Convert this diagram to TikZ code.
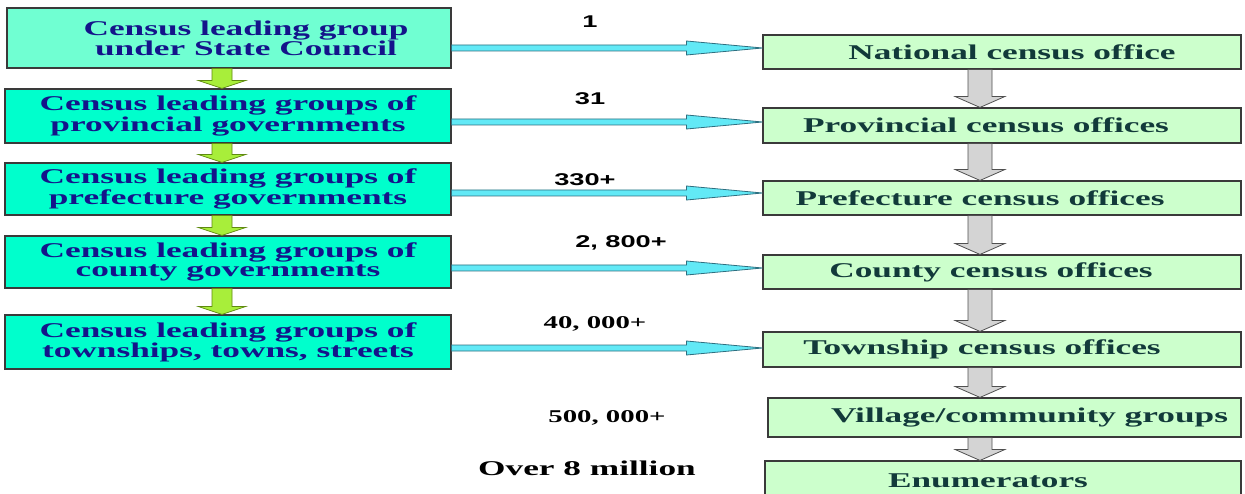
\documentclass[tikz,border=0pt]{standalone}
\usepackage{fontspec}
\usetikzlibrary{calc}
\newfontfamily\bxfont[FakeStretch=1.68]{Liberation Serif}
\newfontfamily\nsans[FakeStretch=1.6]{Liberation Sans}
\newfontfamily\nserif[FakeStretch=1.6]{Liberation Serif}
\definecolor{lfillA}{HTML}{70FFD2}
\definecolor{lfill}{HTML}{00FFCC}
\definecolor{rfill}{HTML}{CCFFCC}
\definecolor{boxline}{HTML}{3A3A3A}
\definecolor{lblue}{HTML}{14148A}
\definecolor{rteal}{HTML}{123A3A}
\definecolor{cyanfill}{HTML}{62E9F6}
\definecolor{cyanline}{HTML}{2E6F80}
\definecolor{greenfill}{HTML}{A8EE3A}
\definecolor{greenline}{HTML}{5F8A10}
\definecolor{grayfill}{HTML}{D4D4D4}
\definecolor{grayline}{HTML}{505050}
\tikzset{
  lbox/.style={draw=boxline, line width=1.1pt, fill=lfill, minimum width=446pt,
    text=lblue, font=\bxfont\bfseries\fontsize{21}{19}\selectfont, align=center, inner sep=0pt},
  rbox/.style={draw=boxline, line width=1.1pt, fill=rfill, minimum width=478pt, minimum height=34pt,
    text=rteal, font=\bxfont\bfseries\fontsize{21}{19}\selectfont, inner sep=0pt},
  numsans/.style={font=\nsans\bfseries\fontsize{17}{17}\selectfont, inner sep=0pt},
  numserif/.style={font=\nserif\bfseries\fontsize{18}{18}\selectfont, inner sep=0pt},
  bigserif/.style={font=\bxfont\bfseries\fontsize{21}{21}\selectfont, inner sep=0pt},
  cyanar/.style={fill=cyanfill, draw=cyanline, line width=0.8pt, line join=miter},
  greenar/.style={fill=greenfill, draw=greenline, line width=0.7pt},
  grayar/.style={fill=grayfill, draw=grayline, line width=0.8pt}
}
\newcommand\cyanarrow[2]{\draw[cyanar] let \p1=(#1), \p2=(#2) in
  (\x1,\y1+3pt) -- (\x2-76pt,\y1+3pt) -- (\x2-76pt,\y1+7pt) -- (\x2,\y1)
  -- (\x2-76pt,\y1-7pt) -- (\x2-76pt,\y1-3pt) -- (\x1,\y1-3pt) -- cycle;}
\newcommand\greenarrow[2]{\draw[greenar] let \p1=(#1), \p2=(#2) in
  (\x1-10pt,\y1) -- (\x1-10pt,\y2+8pt) -- (\x1-24pt,\y2+8pt) -- (\x1,\y2)
  -- (\x1+24pt,\y2+8pt) -- (\x1+10pt,\y2+8pt) -- (\x1+10pt,\y1) -- cycle;}
\newcommand\grayarrow[2]{\draw[grayar] let \p1=(#1), \p2=(#2) in
  (\x1-12pt,\y1) -- (\x1-12pt,\y2+11pt) -- (\x1-25pt,\y2+11pt) -- (\x1,\y2)
  -- (\x1+25pt,\y2+11pt) -- (\x1+12pt,\y2+11pt) -- (\x1+12pt,\y1) -- cycle;}
\begin{document}
\begin{tikzpicture}[x=1pt,y=-1pt]
\useasboundingbox (0,0) rectangle (1245,494);
\clip (0,0) rectangle (1245,494);
\fill[white] (0,0) rectangle (1245,494);
% left boxes
\node[lbox, fill=lfillA, minimum width=444pt, minimum height=60pt] (L1) at (229,38)
  {\hspace*{34pt}Census leading group\\\hspace*{34pt}under State Council};
\node[lbox, minimum height=54pt] (L2) at (228,116) {Census leading groups of\\provincial governments};
\node[lbox, minimum height=52pt] (L3) at (228,189) {Census leading groups of\\prefecture governments};
\node[lbox, minimum height=52pt] (L4) at (228,262) {Census leading groups of\\county governments};
\node[lbox, minimum height=54pt] (L5) at (228,342) {Census leading groups of\\townships, towns, streets};
% right boxes
\node[rbox] (R1) at (1002,52) {\hspace*{20pt}National census office};
\node[rbox, minimum height=35pt] (R2) at (1002,125.5) {Provincial census offices\hspace*{32pt}};
\node[rbox] (R3) at (1002,198) {Prefecture census offices\hspace*{44pt}};
\node[rbox] (R4) at (1002,272) {County census offices\hspace*{22pt}};
\node[rbox, minimum height=35pt] (R5) at (1002,349.5) {Township census offices\hspace*{40pt}};
\node[rbox, minimum width=473pt, minimum height=39pt] (R6) at (1004.5,417.5) {\hspace*{50pt}Village/community groups};
\node[rbox, minimum width=476pt, minimum height=40pt] (R7) at (1003,481) {Enumerators\hspace*{30pt}};
% horizontal connectors
\coordinate (c1s) at (L1.east |- 0,48);  \coordinate (c1e) at (R1.west |- 0,48);
\coordinate (c2s) at (L2.east |- 0,122); \coordinate (c2e) at (R2.west |- 0,122);
\coordinate (c3s) at (L3.east |- 0,193); \coordinate (c3e) at (R3.west |- 0,193);
\coordinate (c4s) at (L4.east |- 0,268); \coordinate (c4e) at (R4.west |- 0,268);
\coordinate (c5s) at (L5.east |- 0,348); \coordinate (c5e) at (R5.west |- 0,348);
\foreach \i in {1,...,5}{\cyanarrow{c\i s}{c\i e}}
% left vertical arrows
\foreach \a/\b in {L1/L2,L2/L3,L3/L4,L4/L5}{
  \coordinate (gs) at (222,0 |- \a.south);
  \coordinate (ge) at (222,0 |- \b.north);
  \greenarrow{gs}{ge}}
% right vertical arrows
\foreach \a/\b in {R1/R2,R2/R3,R3/R4,R4/R5,R5/R6,R6/R7}{
  \coordinate (hs) at (980,0 |- \a.south);
  \coordinate (he) at (980,0 |- \b.north);
  \grayarrow{hs}{he}}
% labels
\node[numsans] (n1) at (590,22) {1};
\node[numsans] (n2) at (590,99) {31};
\node[numsans] (n3) at (585,180) {330+};
\node[numsans] (n4) at (621,243) {2, 800+};
\node[numserif] (n5) at (595,324) {40, 000+};
\node[numserif] (n6) at (607,418) {500, 000+};
\node[bigserif] (n7) at (587,468) {Over 8 million};
\end{tikzpicture}
\end{document}
